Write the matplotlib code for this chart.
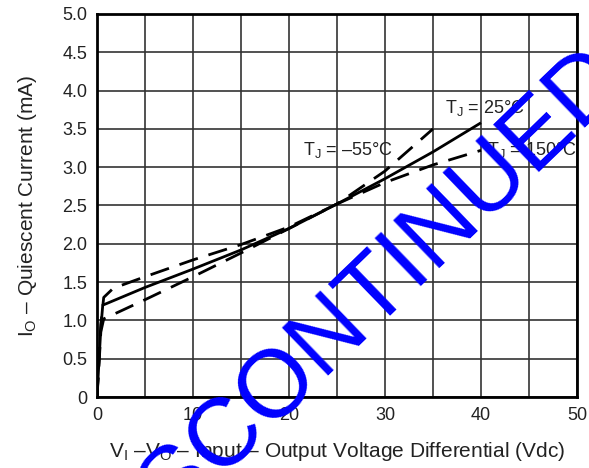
import numpy as np
import matplotlib
matplotlib.use("Agg")
import matplotlib.pyplot as plt

# Quiescent current vs input-output voltage differential
v_25 = [0.0, 0.2, 0.4, 0.6, 1, 5, 10, 15, 20, 25, 30, 35, 40]
i_25 = [0.0, 0.45, 0.9, 1.2, 1.22, 1.43, 1.67, 1.92, 2.2, 2.52, 2.85, 3.2, 3.58]

v_m55 = [0.0, 0.2, 0.4, 0.7, 1.7, 5, 10, 15, 20, 25, 30, 35]
i_m55 = [0.0, 0.5, 0.95, 1.3, 1.42, 1.57, 1.79, 1.99, 2.22, 2.52, 2.95, 3.5]

v_150 = [0.0, 0.2, 0.4, 0.7, 2.6, 5, 10, 15, 20, 25, 30, 35, 40]
i_150 = [0.0, 0.4, 0.85, 1.02, 1.13, 1.27, 1.57, 1.88, 2.2, 2.52, 2.8, 3.03, 3.22]

labels = ["T$_\\mathrm{J}$ = 25°C", "T$_\\mathrm{J}$ = \u201355°C", "T$_\\mathrm{J}$ = 150°C"]
label_pos = [(36.3, 3.77), (21.5, 3.22), (40.6, 3.22)]

plt.rcParams['font.family'] = ['Liberation Sans', 'DejaVu Sans']
plt.rcParams['mathtext.fontset'] = 'custom'
plt.rcParams['mathtext.rm'] = 'Liberation Sans'
plt.rcParams['mathtext.it'] = 'Liberation Sans'

fig = plt.figure(figsize=(5.89, 4.68), dpi=100)
ax = fig.add_axes([97 / 589, 1 - 397 / 468, 480 / 589, 383 / 468])

ax.plot(v_25, i_25, color='black', lw=2.0, solid_capstyle='butt')
ax.plot(v_m55, i_m55, color='black', lw=2.0, dashes=(7, 4))
ax.plot(v_150, i_150, color='black', lw=2.0, dashes=(7, 4))

for txt, (x, y) in zip(labels, label_pos):
    ax.text(x, y, txt, fontsize=13, ha='left', va='center', color='#222222')

ax.set_xlim(0, 50)
ax.set_ylim(0, 5)
ax.set_xticks(np.arange(0, 51, 10))
ax.set_xticks(np.arange(5, 50, 10), minor=True)
ax.set_yticks(np.arange(0, 5.01, 0.5))
ax.set_yticklabels(['0'] + ['%.1f' % v for v in np.arange(0.5, 5.01, 0.5)])
ax.tick_params(which='both', length=0, labelsize=13, pad=7, labelcolor='#222222')
ax.grid(True, which='both', color='#333333', lw=1.2)
ax.set_axisbelow(True)
for s in ax.spines.values():
    s.set_linewidth(2)

ax.set_xlabel("V$_\\mathrm{I}$ \u2013V$_\\mathrm{O}$ \u2013 Input \u2013 Output Voltage Differential (Vdc)",
              fontsize=15, labelpad=12, color='#222222')
ax.set_ylabel("I$_\\mathrm{O}$ \u2013 Quiescent Current (mA)", fontsize=15, labelpad=17, color='#222222')

# watermark
fig.text(365 / 589, 1 - 333 / 468, "DISCONTINUED", rotation=44, rotation_mode='anchor',
         ha='center', va='baseline', color='blue', fontsize=69, zorder=10)

plt.savefig("out.png", dpi=100)
